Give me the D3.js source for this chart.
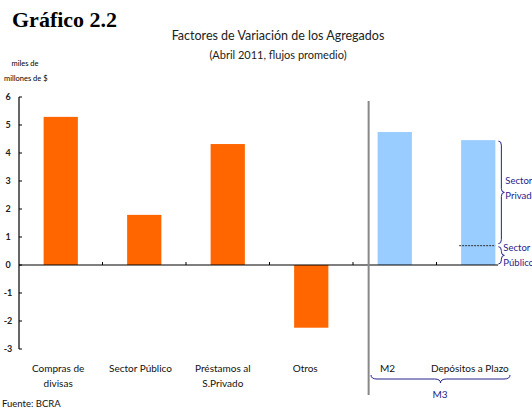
<!DOCTYPE html>
<html>
<head>
<meta charset="utf-8">
<script src="https://cdn.jsdelivr.net/npm/d3@7"></script>
<style>
  body { margin: 0; background: #fff; }
  svg text { font-family: Lato, 'Open Sans', sans-serif; }
</style>
</head>
<body>
<div class="workspace"></div>
<script>
const categories = ['Compras de divisas', 'Sector Público', 'Préstamos al S.Privado', 'Otros', 'M2', 'Depósitos a Plazo'];
const labelLines = [['Compras de', 'divisas'], ['Sector Público'], ['Préstamos al', 'S.Privado'], ['Otros'], ['M2'], ['Depósitos a Plazo']];
const values = [5.29, 1.79, 4.32, -2.24, 4.75, 4.46];
const groups = ['factor', 'factor', 'factor', 'factor', 'agregado', 'agregado'];
const publicShare = 0.69; // Depósitos a Plazo: parte Sector Público
const yTicks = [-3, -2, -1, 0, 1, 2, 3, 4, 5, 6];

const width = 532;
const height = 410;
const navy = '#23238c';

const svg = d3.select('.workspace')
  .append('svg')
  .attr('width', width)
  .attr('height', height);

const x = d3.scaleBand()
  .domain(categories)
  .range([19, 520])
  .paddingInner(0.59)
  .paddingOuter(0.295);

const xLabel = d3.scaleBand()
  .domain(categories)
  .range([17, 511]);

const y = d3.scaleLinear()
  .domain([-3, 6])
  .range([349, 97]);

const color = { factor: '#ff6600', agregado: '#99ccff' };

// titles
svg.append('text')
  .attr('x', 12).attr('y', 27)
  .style('font-family', "'Liberation Serif', 'Times New Roman', serif")
  .style('font-weight', 'bold')
  .style('font-size', '22px')
  .text('Gráfico 2.2');

svg.append('text')
  .attr('x', 278).attr('y', 40)
  .attr('text-anchor', 'middle')
  .style('font-size', '12.5px')
  .attr('fill', '#222')
  .text('Factores de Variación de los Agregados');

svg.append('text')
  .attr('x', 278).attr('y', 59)
  .attr('text-anchor', 'middle')
  .style('font-size', '11px')
  .attr('fill', '#222')
  .text('(Abril 2011, flujos promedio)');

svg.append('text')
  .attr('x', 25).attr('y', 66)
  .attr('text-anchor', 'middle')
  .style('font-size', '7.5px')
  .text('miles de');
svg.append('text')
  .attr('x', 4).attr('y', 81)
  .style('font-size', '7.5px')
  .text('millones de $');

// bars
svg.selectAll('rect.bar')
  .data(categories)
  .enter()
  .append('rect')
  .attr('class', 'bar')
  .attr('x', (d) => x(d))
  .attr('width', x.bandwidth())
  .attr('y', (d, i) => y(Math.max(0, values[i])))
  .attr('height', (d, i) => Math.abs(y(values[i]) - y(0)))
  .attr('fill', (d, i) => color[groups[i]]);

// y axis
svg.append('line')
  .attr('x1', 19).attr('x2', 19)
  .attr('y1', y(6)).attr('y2', y(-3))
  .attr('stroke', '#000').attr('stroke-width', 1.2);

svg.selectAll('line.ytick')
  .data(yTicks)
  .enter()
  .append('line')
  .attr('class', 'ytick')
  .attr('x1', 19).attr('x2', 22)
  .attr('y1', (d) => y(d)).attr('y2', (d) => y(d))
  .attr('stroke', '#000');

svg.selectAll('text.ytick')
  .data(yTicks)
  .enter()
  .append('text')
  .attr('class', 'ytick')
  .attr('x', 8)
  .attr('y', (d) => y(d) + 3)
  .attr('text-anchor', 'middle')
  .style('font-size', '9px')
  .style('font-weight', 'bold')
  .attr('fill', '#222')
  .text((d) => d);

// zero line + category ticks
svg.append('line')
  .attr('x1', 19).attr('x2', 498)
  .attr('y1', y(0)).attr('y2', y(0))
  .attr('stroke', '#000').attr('stroke-width', 1.2);

svg.selectAll('line.xtick')
  .data(categories.slice(1))
  .enter()
  .append('line')
  .attr('class', 'xtick')
  .attr('x1', (d) => x(d) - x.step() * 0.295)
  .attr('x2', (d) => x(d) - x.step() * 0.295)
  .attr('y1', y(0)).attr('y2', y(0) - 3)
  .attr('stroke', '#000');

// separator
const sepX = x('M2') - 9;
svg.append('line')
  .attr('x1', sepX).attr('x2', sepX)
  .attr('y1', 101).attr('y2', 395)
  .attr('stroke', '#888').attr('stroke-width', 2);

// category labels
labelLines.forEach(function (lines, i) {
  const t = svg.append('text')
    .attr('text-anchor', 'middle')
    .style('font-size', '10px')
    .attr('fill', '#111');
  lines.forEach(function (line, j) {
    t.append('tspan')
      .attr('x', xLabel(categories[i]) + xLabel.bandwidth() / 2)
      .attr('y', 372 + j * 15)
      .text(line);
  });
});

// dashed split line on Depósitos a Plazo
const dep = 'Depósitos a Plazo';
svg.append('line')
  .attr('x1', x(dep) - 2).attr('x2', x(dep) + x.bandwidth())
  .attr('y1', y(publicShare)).attr('y2', y(publicShare))
  .attr('stroke', '#333')
  .attr('stroke-dasharray', '2,1');

function vBrace(x0, y1, y2, d) {
  const ym = (y1 + y2) / 2;
  const r = Math.min(4, (y2 - y1) / 4);
  return `M${x0},${y1} Q${x0 + d},${y1} ${x0 + d},${y1 + r} L${x0 + d},${ym - r} Q${x0 + d},${ym} ${x0 + 2 * d},${ym} Q${x0 + d},${ym} ${x0 + d},${ym + r} L${x0 + d},${y2 - r} Q${x0 + d},${y2} ${x0},${y2}`;
}

function hBrace(x1, x2, y0, d) {
  const xm = (x1 + x2) / 2;
  const r = 6;
  return `M${x1},${y0} Q${x1},${y0 + d} ${x1 + r},${y0 + d} L${xm - r},${y0 + d} Q${xm},${y0 + d} ${xm},${y0 + 2 * d} Q${xm},${y0 + d} ${xm + r},${y0 + d} L${x2 - r},${y0 + d} Q${x2},${y0 + d} ${x2},${y0}`;
}

const braceX = x(dep) + x.bandwidth() + 3;
svg.append('path')
  .attr('d', vBrace(braceX, y(values[5]) + 1, y(publicShare) - 2, 3))
  .attr('fill', 'none').attr('stroke', navy).attr('stroke-width', 1);
svg.append('path')
  .attr('d', vBrace(braceX, y(publicShare) + 1, y(0) - 1, 3))
  .attr('fill', 'none').attr('stroke', navy).attr('stroke-width', 1);

const privText = svg.append('text')
  .style('font-size', '9.5px')
  .attr('fill', navy);
privText.append('tspan').attr('x', braceX + 7).attr('y', 184).text('Sector');
privText.append('tspan').attr('x', braceX + 7).attr('y', 199).text('Privado');

const pubText = svg.append('text')
  .style('font-size', '9.5px')
  .attr('fill', navy);
pubText.append('tspan').attr('x', braceX + 5).attr('y', 251).text('Sector');
pubText.append('tspan').attr('x', braceX + 5).attr('y', 266).text('Público');

// M3 brace
svg.append('path')
  .attr('d', hBrace(371, 510, 375, 4))
  .attr('fill', 'none').attr('stroke', navy).attr('stroke-width', 1);
svg.append('text')
  .attr('x', 440).attr('y', 398)
  .attr('text-anchor', 'middle')
  .style('font-size', '10px')
  .attr('fill', navy)
  .text('M3');

svg.append('text')
  .attr('x', 2).attr('y', 407)
  .style('font-size', '9.5px')
  .attr('fill', '#111')
  .text('Fuente: BCRA');
</script>
</body>
</html>
